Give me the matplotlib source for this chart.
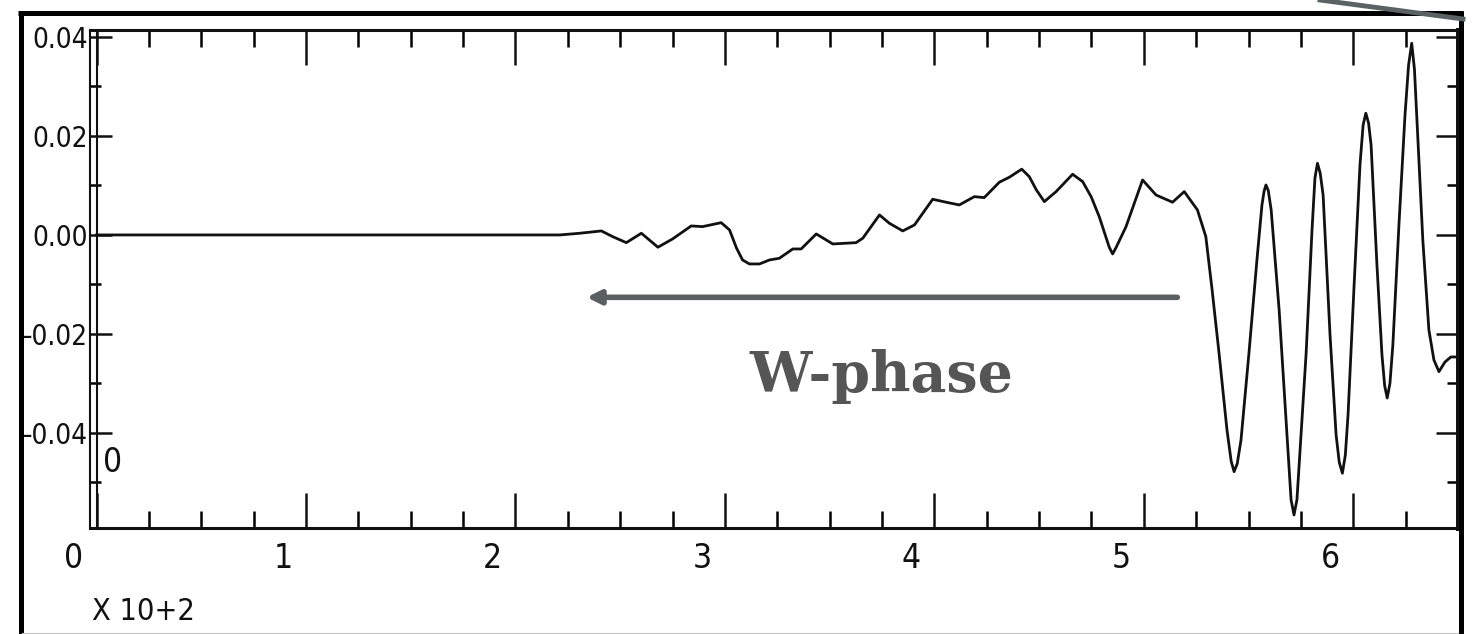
import matplotlib
matplotlib.use('Agg')
import matplotlib.pyplot as plt
from matplotlib.lines import Line2D
from matplotlib.transforms import ScaledTranslation

# trace: time [s], amplitude
time_s = [0.0, 221.1, 230.7, 241.0, 246.4, 252.9, 260.1, 268.0, 275.0, 283.9,
          289.3, 298.2, 302.2, 305.5, 308.4, 311.7, 316.5, 321.3, 326.0, 332.4,
          336.4, 343.6, 351.5, 362.6, 365.8, 373.8, 378.5, 384.9, 390.5, 399.2,
          405.6, 411.9, 419.1, 423.8, 431.0, 435.8, 441.7, 445.3, 448.7, 452.5,
          458.1, 466.0, 470.8, 474.9, 478.7, 483.5, 485.1, 486.8, 491.5, 499.4,
          505.8, 513.7, 519.3, 525.6, 529.6, 532.6, 535.9, 539.7, 541.7, 543.1,
          544.6, 546.4, 550.2, 554.0, 556.4, 557.4, 558.3, 559.4, 560.8, 564.6,
          567.9, 570.3, 571.7, 573.1, 574.6, 577.5, 580.3, 581.7, 582.9, 584.2,
          585.6, 588.9, 591.8, 593.3, 594.8, 596.2, 597.5, 600.4, 603.2, 604.7,
          606.0, 607.3, 608.5, 611.3, 613.7, 615.0, 616.2, 617.5, 618.9, 621.8,
          624.7, 626.4, 627.9, 629.2, 630.4, 633.2, 636.1, 638.5, 640.9, 643.8,
          646.6, 649.0]
amp = [0.0, 0.0, 0.00034, 0.00081, -0.00034, -0.00156, 0.00034, -0.00248, -0.00081, 0.00182,
       0.00168, 0.00248, 0.00101, -0.00263, -0.00505, -0.00586, -0.00586, -0.00505, -0.00471, -0.00283,
       -0.00283, 0.00020, -0.00182, -0.00156, -0.00067, 0.00404, 0.00236, 0.00081, 0.00202, 0.00721,
       0.00661, 0.00606, 0.00774, 0.00754, 0.01065, 0.01166, 0.01329, 0.01178, 0.00909, 0.00673,
       0.00875, 0.01226, 0.01077, 0.00768, 0.00370, -0.0025, -0.00384, -0.0025, 0.00168, 0.01111,
       0.00808, 0.00661, 0.00875, 0.00505, -0.00034, -0.01111, -0.02384, -0.03939, -0.0457, -0.04782,
       -0.0462, -0.04141, -0.02384, -0.00505, 0.00606, 0.0088, 0.0101, 0.0090, 0.00505, -0.01515,
       -0.03737, -0.0535, -0.05657, -0.0535, -0.04343, -0.02384, 0.00101, 0.0115, 0.01448, 0.0125,
       0.00808, -0.0202, -0.0404, -0.0459, -0.04814, -0.0445, -0.03636, -0.0101, 0.01414, 0.0222,
       0.02459, 0.0226, 0.01818, -0.00606, -0.02424, -0.0305, -0.03293, -0.0300, -0.02222, 0.00202,
       0.02424, 0.0343, 0.03873, 0.0335, 0.02323, -0.00101, -0.01919, -0.02525, -0.02761, -0.02566,
       -0.02465, -0.02465]

x_major = [0, 100, 200, 300, 400, 500, 600]
x_labels = ['0', '1', '2', '3', '4', '5', '6']
x_minor = list(range(0, 651, 25))
y_major = [0.04, 0.02, 0.0, -0.02, -0.04]
y_labels = ['0.04', '0.02', '0.00', '\u20130.02', '\u20130.04']
y_minor = [0.03, 0.01, -0.01, -0.03, -0.05]

arrow_tail = (516, -0.0126)
arrow_tip = (234, -0.0126)

W, H = 1473, 634

def fx(px):
    return px / W

def fy(py):
    return 1 - py / H

# narrow lettering, closest to the old SAC plot font
plt.rcParams['font.family'] = ['DejaVu Sans']
plt.rcParams['font.stretch'] = 'condensed'
y_size = 20
x_size = 24

fig = plt.figure(figsize=(W / 100, H / 100), dpi=100)
fig.patch.set_facecolor('white')
ax = fig.add_axes([fx(90), fy(528), (1458 - 90) / W, (528 - 30) / H])

ax.plot(time_s, amp, color='#111111', lw=2.0, solid_joinstyle='round')
ax.axvline(0, color='#111111', lw=1.5)

ax.set_xlim(-3.15, 649.5)
ax.set_ylim(-0.0592, 0.0414)

ax.set_xticks(x_major)
ax.set_xticklabels(x_labels)
ax.set_xticks(x_minor, minor=True)
ax.set_yticks(y_major)
ax.set_yticklabels(y_labels)
ax.set_yticks(y_minor, minor=True)

ax.tick_params(axis='x', which='major', direction='in', length=25, width=1.8,
               top=True, bottom=True, pad=10, labelsize=x_size, colors='#111111')
ax.tick_params(axis='x', which='minor', direction='in', length=12, width=1.8,
               top=True, bottom=True)
ax.tick_params(axis='y', which='major', direction='in', length=16, width=1.8,
               left=True, right=True, pad=1.5, labelsize=y_size, colors='#111111')
ax.tick_params(axis='y', which='minor', direction='in', length=8, width=1.8,
               left=True, right=True)

for side in ['top', 'bottom']:
    ax.spines[side].set_linewidth(2.2)
ax.spines['left'].set_linewidth(1.5)
ax.spines['right'].set_linewidth(3.6)
for sp in ax.spines.values():
    sp.set_color('#111111')

# SAC puts the x labels a bit left of their ticks
shift = ScaledTranslation(-0.23, 0, fig.dpi_scale_trans)
for lab in ax.get_xticklabels():
    lab.set_transform(lab.get_transform() + shift)

ax.annotate('', xy=arrow_tip, xytext=arrow_tail,
            arrowprops=dict(arrowstyle='-|>,head_length=0.4,head_width=0.2',
                            lw=4, color='#5a5f5f', shrinkA=0, shrinkB=0,
                            mutation_scale=20))

fig.text(fx(881), fy(392), 'W-phase', ha='center', va='baseline',
         family='DejaVu Serif', stretch='normal', weight='bold', size=40,
         color='#555555')
fig.text(fx(113), fy(462), '0', ha='center', va='center', size=x_size,
         color='#111111')
fig.text(fx(92), fy(597), 'X 10+2', ha='left', va='top', size=22,
         color='#111111')

# slide frame around the plot
frame = dict(color='black', lw=3.6, solid_capstyle='butt')
fig.add_artist(Line2D([fx(20.5), fx(20.5)], [fy(11), fy(634)], **frame))
fig.add_artist(Line2D([fx(18), fx(1463)], [fy(12.5), fy(12.5)], **frame))
fig.add_artist(Line2D([fx(1460.5), fx(1460.5)], [fy(11), fy(634)], **frame))
fig.add_artist(Line2D([fx(1320), fx(1463)], [fy(0), fy(19)], color='#5a6262', lw=3.5))
fig.add_artist(Line2D([fx(22), fx(1458)], [fy(632.5), fy(632.5)], color='#c4c4c4', lw=0.8))

fig.savefig('out.png', dpi=100, facecolor='white')
